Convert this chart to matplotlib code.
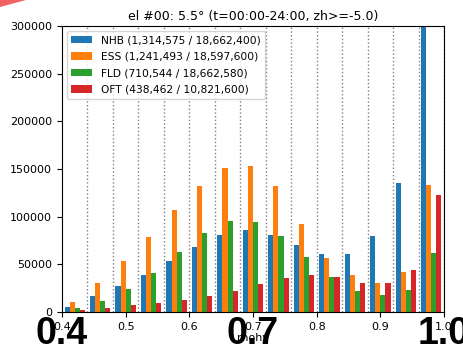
import numpy as np
import matplotlib
matplotlib.use("Agg")
import matplotlib.pyplot as plt
from matplotlib.patches import Polygon
from matplotlib.transforms import blended_transform_factory

# rhohv histogram bins (0.04 wide) and counts per radar
bin_edges = np.round(np.arange(0.40, 1.0001, 0.04), 2)
nhb = [5000, 17000, 27000, 39000, 53000, 68000, 81000, 86000, 80800,
       70300, 60500, 60500, 79500, 134900, 452000]
ess = [11000, 30000, 53000, 79000, 107000, 132000, 151000, 152800, 131700,
       92300, 56600, 38800, 30000, 41700, 132900]
fld = [4000, 12000, 24000, 41000, 63000, 83000, 95000, 94000, 79500,
       57700, 36400, 22300, 17500, 23400, 61600]
oft = [2000, 4500, 7000, 9500, 12500, 16500, 22000, 29000, 35500,
       38800, 36400, 30400, 30400, 44400, 122400]
labels = ["NHB (1,314,575 / 18,662,400)",
          "ESS (1,241,493 / 18,597,600)",
          "FLD (710,544 / 18,662,580)",
          "OFT (438,462 / 10,821,600)"]
big_ticks = [0.4, 0.7, 1.0]
big_tick_labels = ["0.4", "0.7", "1.0"]

plt.rcParams["font.size"] = 8

fig = plt.figure(figsize=(4.64, 3.45), dpi=100)
ax = fig.add_axes([62 / 464, 33 / 345, 382 / 464, 286 / 345])

centers = (bin_edges[:-1] + bin_edges[1:]) / 2
ax.hist([centers] * 4, bins=bin_edges, weights=[nhb, ess, fld, oft],
        label=labels, color=["C0", "C1", "C2", "C3"], zorder=2)

for e in bin_edges[1:]:
    ax.axvline(e, color="gray", linestyle=":", linewidth=1, zorder=1)

ax.set_xlim(0.4, 1.0)
ax.set_ylim(0, 300000)
ax.set_xticks([0.4, 0.5, 0.6, 0.7, 0.8, 0.9, 1.0])
ax.set_xticklabels(["0.4", "0.5", "0.6", "0.7", "0.8", "0.9", "1.0"])
ax.set_xlabel("rhohv", labelpad=1)
ax.set_title("el #00: 5.5° (t=00:00-24:00, zh>=-5.0)", fontsize=9, pad=4)
ax.legend(loc="upper left", fontsize=7.65, labelspacing=0.62,
          borderaxespad=0.45)

# large overlaid tick values
trans = blended_transform_factory(ax.transData, fig.transFigure)
for xv, txt in zip(big_ticks, big_tick_labels):
    fig.text(xv, 0.002, txt, transform=trans, ha="center", va="baseline",
             fontsize=27, fontweight="bold", family="Liberation Sans",
             color="black", zorder=10)

# red corner wedge
fig.patches.append(Polygon([(0, 1), (26 / 464, 1), (0, 1 - 7 / 345)],
                           closed=True, transform=fig.transFigure,
                           facecolor="#f26262", edgecolor="none"))

fig.savefig("out.png")
plt.close(fig)
